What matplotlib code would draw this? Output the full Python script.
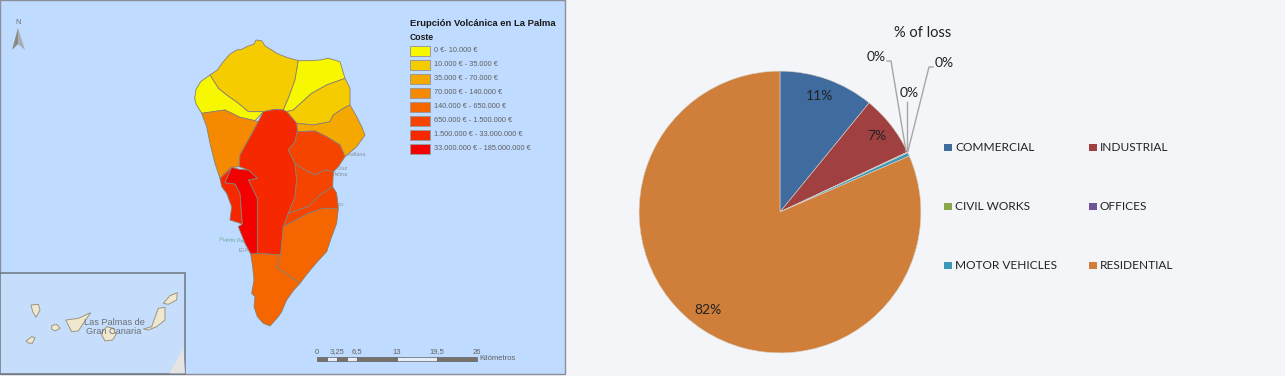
"""Erupcion map of La Palma (left) and % of loss pie (right)."""
import matplotlib

matplotlib.use("Agg")
import matplotlib.pyplot as plt
from matplotlib.patches import Polygon, Rectangle

W, H = 1285, 376

# --- pie data ---
pie_labels = ["COMMERCIAL", "INDUSTRIAL", "CIVIL WORKS", "OFFICES",
              "MOTOR VEHICLES", "RESIDENTIAL"]
pie_values = [10.9, 7.1, 0.05, 0.05, 0.4, 81.5]
pie_colors = ["#3F6B9F", "#A04040", "#8AA84B", "#6F5496", "#3C98B8", "#D07F3A"]

# --- map legend ---
cost_labels = ["0 €- 10.000 €", "10.000 € - 35.000 €", "35.000 € - 70.000 €",
               "70.000 € - 140.000 €", "140.000 € - 650.000 €",
               "650.000 € - 1.500.000 €", "1.500.000 € - 33.000.000 €",
               "33.000.000 € - 185.000.000 €"]
cost_colors = ["#F7F700", "#F5CC00", "#F5A800", "#F58A00", "#F56500",
               "#F54400", "#F52800", "#F50000"]

scale_labels = ["0", "3,25", "6,5", "13", "19,5", "26"]
scale_km = [0, 3.25, 6.5, 13, 19.5, 26]
scale_segments = [(0, 1.625), (1.625, 3.25), (3.25, 4.875), (4.875, 6.5),
                  (6.5, 13), (13, 19.5), (19.5, 26)]

# --- municipality outlines, (class index, points in 3x crop coords) ---
municipalities = [
    (1, [(90, 135), (112, 120), (130, 95), (150, 72), (170, 60), (185, 58), (200, 50),
         (222, 42), (228, 30), (245, 32), (255, 48), (272, 58), (290, 70), (320, 82),
         (355, 92), (345, 150), (325, 205), (310, 240), (285, 238), (250, 245),
         (205, 245), (175, 220), (140, 195), (115, 175)]),
    (0, [(355, 92), (390, 92), (420, 90), (445, 85), (480, 95), (495, 145), (440, 165),
         (395, 190), (340, 240), (320, 245), (310, 240), (325, 205), (345, 150)]),
    (0, [(90, 135), (115, 175), (140, 195), (175, 220), (205, 245), (250, 245), (225, 272),
         (180, 262), (135, 240), (65, 250), (48, 222), (44, 205), (48, 178), (62, 155)]),
    (1, [(495, 145), (510, 175), (510, 225), (490, 235), (460, 255), (450, 275), (400, 285),
         (350, 280), (320, 245), (340, 240), (395, 190), (440, 165)]),
    (2, [(510, 225), (530, 260), (545, 290), (555, 315), (530, 350), (495, 380), (480, 345),
         (440, 320), (405, 303), (352, 305), (350, 280), (400, 285), (450, 275), (460, 255),
         (490, 235)]),
    (3, [(65, 250), (135, 240), (180, 262), (225, 272), (235, 275), (205, 330), (180, 375),
         (178, 410), (155, 412), (120, 445), (105, 400), (90, 340), (80, 290)]),
    (6, [(285, 238), (310, 240), (320, 245), (350, 280), (352, 305), (345, 335), (325, 360),
         (345, 400), (350, 450), (345, 500), (325, 550), (310, 590), (302, 675), (232, 670),
         (232, 505), (205, 450), (232, 445), (205, 420), (178, 410), (180, 375), (205, 330),
         (235, 275), (250, 245)]),
    (5, [(352, 305), (405, 303), (440, 320), (480, 345), (495, 380), (475, 410), (460, 425),
         (435, 420), (405, 435), (375, 420), (345, 400), (325, 360), (345, 335)]),
    (5, [(345, 400), (375, 420), (405, 435), (435, 420), (460, 425), (458, 470), (420, 495),
         (385, 530), (325, 550), (345, 500), (350, 450)]),
    (5, [(458, 470), (470, 490), (475, 535), (430, 535), (385, 550), (310, 590), (325, 550),
         (385, 530), (420, 495)]),
    (4, [(475, 535), (470, 580), (455, 620), (440, 665), (415, 692), (395, 715), (375, 740),
         (360, 760), (290, 712), (302, 675), (310, 590), (385, 550), (430, 535)]),
    (4, [(212, 672), (232, 670), (302, 675), (290, 712), (360, 760), (340, 782), (320, 810),
         (305, 845), (295, 860), (270, 888), (250, 880), (232, 860), (222, 830), (225, 800),
         (215, 790), (222, 750), (218, 710)]),
    (6, [(120, 445), (155, 412), (135, 458), (165, 462), (180, 490), (187, 582), (150, 570),
         (155, 530), (140, 490), (125, 470)]),
    (7, [(155, 412), (178, 418), (205, 420), (232, 445), (205, 450), (232, 505), (232, 670),
         (212, 672), (195, 640), (175, 590), (187, 582), (180, 490), (165, 462), (135, 458)]),
]

# --- inset islands, in 3x crop coords ---
islands = [
    [(93, 120), (115, 118), (120, 135), (108, 157), (98, 140)],
    [(155, 182), (170, 178), (180, 190), (165, 198), (155, 192)],
    [(78, 228), (95, 215), (105, 218), (97, 235), (85, 234)],
    [(197, 165), (235, 160), (272, 143), (250, 175), (235, 198), (215, 200)],
    [(303, 205), (320, 185), (340, 190), (348, 208), (338, 225), (315, 228)],
    [(430, 192), (455, 185), (475, 130), (495, 127), (495, 165), (470, 185), (445, 195)],
    [(490, 115), (510, 92), (532, 83), (530, 105), (505, 118)],
]
africa = [(508, 325), (550, 250), (555, 325)]


def to_map(points):
    return [(180 + x / 3, 30 + y / 3) for x, y in points]


def to_inset(points):
    return [(x / 3, 265 + y / 3) for x, y in points]


plt.rcParams["font.family"] = ["Liberation Sans", "DejaVu Sans"]
fig = plt.figure(figsize=(W / 100, H / 100), dpi=100, facecolor="#F3F5F8")
ax = fig.add_axes([0, 0, 1, 1])
ax.set_xlim(0, W)
ax.set_ylim(H, 0)
ax.axis("off")

# map panel
ax.add_patch(Rectangle((0, 0), 565, 374, facecolor="#BFDBFF", edgecolor="#8A8F98", lw=1))

# place names sit under the land so only their ends show on the coast
ax.text(219, 241, "Puerto Pesquero", fontsize=4, color="#6FA89A", rotation=-4, ha="left", va="center", zorder=1)
ax.text(239, 251, "El Paso", fontsize=3.8, color="#8A8F98", ha="left", va="center", zorder=1)
ax.text(366, 155, "Puntallana", fontsize=3.8, color="#8A8F98", ha="right", va="center", zorder=1)
ax.text(348, 168, "Cruz", fontsize=3.8, color="#8A8F98", ha="right", va="center", zorder=1)
ax.text(348, 174, "Palma", fontsize=3.8, color="#8A8F98", ha="right", va="center", zorder=1)
ax.text(344, 205, "Mazo", fontsize=3.8, color="#8A8F98", ha="right", va="center", zorder=1)

for cls, pts in municipalities:
    ax.add_patch(Polygon(to_map(pts), closed=True, facecolor=cost_colors[cls],
                         edgecolor="#8C7F72", lw=0.6, joinstyle="round", zorder=2))

# north arrow
ax.text(18, 23, "N", fontsize=5.5, color="#6A6E72", ha="center", va="center")
ax.add_patch(Polygon([(18, 28), (12, 50), (18, 44)], closed=True, facecolor="#8A8A80", edgecolor="none"))
ax.add_patch(Polygon([(18, 28), (25, 50), (18, 44)], closed=True, facecolor="#A8AEB4", edgecolor="none"))

# map legend
ax.text(410, 23, "Erupción Volcánica en La Palma", fontsize=6.8, weight="bold", color="#1A1A1A", va="center")
ax.text(410, 37, "Coste", fontsize=6.2, weight="bold", color="#1A1A1A", va="center")
for i, (label, color) in enumerate(zip(cost_labels, cost_colors)):
    y = 50.5 + i * 14
    ax.add_patch(Rectangle((410, y - 5), 20, 10, facecolor=color, edgecolor="#9A9A9A", lw=0.7))
    ax.text(434, y, label, fontsize=5.3, color="#606060", va="center")

# inset
ax.add_patch(Rectangle((0, 273), 185, 101, facecolor="#C6DEFB", edgecolor="#6E7680", lw=1.1))
ax.add_patch(Polygon(to_inset(africa), closed=True, facecolor="#E4E4E2", edgecolor="none"))
for pts in islands:
    ax.add_patch(Polygon(to_inset(pts), closed=True, facecolor="#EFE8CF", edgecolor="#9B9683", lw=0.7))
ax.text(114, 327, "Las Palmas de\nGran Canaria", fontsize=6.6, color="#6A7078", ha="center", va="center", linespacing=1.05)

# scale bar
x0, km_px = 317, 160 / 26
for i, (a, b) in enumerate(scale_segments):
    face = "#777068" if i % 2 == 0 else "#E4EEFA"
    ax.add_patch(Rectangle((x0 + a * km_px, 357), (b - a) * km_px, 4, facecolor=face, edgecolor="#606060", lw=0.5))
for km, label in zip(scale_km, scale_labels):
    ax.text(x0 + km * km_px, 352, label, fontsize=5.5, color="#606060", ha="center", va="center")
ax.text(x0 + 26 * km_px + 2, 359, "Kilómetros", fontsize=5.5, color="#606060", va="center")

# pie panel
cx, cy, r = 780, 212, 141
pie_ax = fig.add_axes([(cx - r - 2) / W, 1 - (cy + r + 2) / H, (2 * r + 4) / W, (2 * r + 4) / H])
pie_ax.pie(pie_values, colors=pie_colors, startangle=90, counterclock=False, radius=1,
           wedgeprops={"linewidth": 0.4, "edgecolor": "#D9D2C8"})
pie_ax.set_xlim(-1.015, 1.015)
pie_ax.set_ylim(-1.015, 1.015)
pie_ax.set_aspect("equal")

overlay = fig.add_axes([0, 0, 1, 1])
overlay.set_xlim(0, W)
overlay.set_ylim(H, 0)
overlay.axis("off")
overlay.patch.set_alpha(0)

txt = {"family": ["Lato", "DejaVu Sans"], "color": "#222222"}
overlay.text(923, 33, "% of loss", fontsize=10.5, ha="center", va="center", **txt)
overlay.text(820, 96, "11%", fontsize=10, ha="center", va="center", **txt)
overlay.text(877, 136, "7%", fontsize=10, ha="center", va="center", **txt)
overlay.text(708, 310, "82%", fontsize=10, ha="center", va="center", **txt)
overlay.text(876, 57, "0%", fontsize=10, ha="center", va="center", **txt)
overlay.text(909, 93, "0%", fontsize=10, ha="center", va="center", **txt)
overlay.text(944, 63, "0%", fontsize=10, ha="center", va="center", **txt)

for xs, ys in [([887, 891, 906], [61, 61, 151]), ([907, 907], [102, 151]),
               ([933, 929, 908], [67, 67, 151])]:
    overlay.plot(xs, ys, color="#A6A6A6", lw=1)

# pie legend, two columns
for i, (label, color) in enumerate(zip(pie_labels, pie_colors)):
    lx = 944 if i % 2 == 0 else 1089
    ly = 147.5 + (i // 2) * 59
    overlay.add_patch(Rectangle((lx, ly - 4), 7.5, 7.5, facecolor=color, edgecolor="none"))
    overlay.text(lx + 11, ly, label, fontsize=8.6, va="center", **txt)

fig.savefig("out.png", dpi=100, facecolor=fig.get_facecolor())
